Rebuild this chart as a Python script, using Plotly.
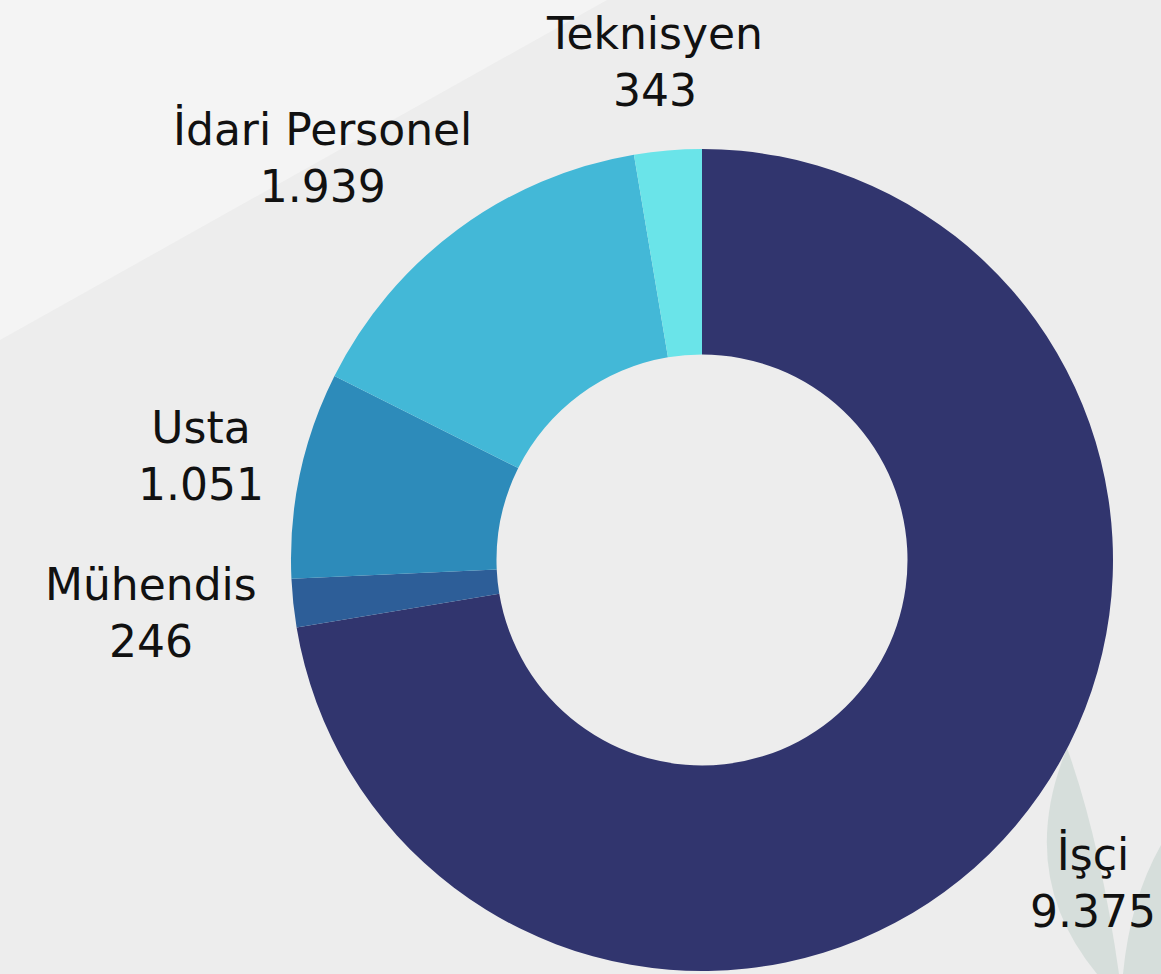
import math
import plotly.graph_objects as go

categories = ["İşçi", "Mühendis", "Usta", "İdari Personel", "Teknisyen"]
values = [9375, 246, 1051, 1939, 343]
value_labels = ["9.375", "246", "1.051", "1.939", "343"]
colors = ["#31356E", "#2D5E98", "#2D8BBA", "#43B8D7", "#6AE4E9"]

W, H = 1161, 974
FS = 44
cx_px, top_px, bot_px = 702, 149, 3
R = (H - top_px - bot_px) / 2
cy_px = top_px + R
half = 0.36

fig = go.Figure(go.Pie(
    labels=categories,
    values=values,
    hole=0.5,
    sort=False,
    direction="clockwise",
    rotation=0,
    marker=dict(colors=colors, line=dict(width=0)),
    textinfo="none",
    domain=dict(x=[cx_px / W - half, cx_px / W + half],
                y=[bot_px / H, 1 - top_px / H]),
    showlegend=False,
    hoverinfo="label+value",
))

# outside labels placed at each slice's mid-angle
total = sum(values)
cum = 0
for lab, v, vl in zip(categories, values, value_labels):
    mid = (cum + v / 2) / total * 2 * math.pi
    cum += v
    ux, uy = math.sin(mid), -math.cos(mid)  # screen coords (y down)
    hw = 0.32 * FS * max(len(lab), len(vl))
    hh = 58
    rr = 1.075 * R
    px = cx_px + rr * ux + hw * ux
    py = cy_px + rr * uy + hh * uy
    fig.add_annotation(
        x=px / W, y=1 - py / H, xref="paper", yref="paper",
        text=f"{lab}<br>{vl}", showarrow=False, align="center",
        xanchor="center", yanchor="middle",
        font=dict(family="DejaVu Sans", size=FS, color="#111111"),
    )

def P(x, y):
    return f"{x / W:.5f},{1 - y / H:.5f}"

# background decorations
fig.add_shape(type="path", xref="paper", yref="paper", layer="below",
              path=f"M {P(0,0)} L {P(607,0)} L {P(0,340)} Z",
              fillcolor="#F4F4F4", line=dict(width=0))
fig.add_shape(type="path", xref="paper", yref="paper", layer="below",
              path=f"M {P(1067,748)} Q {P(1015,875)} {P(1097,974)} L {P(1119,974)} Q {P(1100,840)} {P(1067,748)} Z",
              fillcolor="#D6DEDB", line=dict(width=0))
fig.add_shape(type="path", xref="paper", yref="paper", layer="below",
              path=f"M {P(1161,845)} Q {P(1130,900)} {P(1123,974)} L {P(1161,974)} Z",
              fillcolor="#D6DEDB", line=dict(width=0))

fig.update_layout(
    width=W, height=H,
    margin=dict(l=0, r=0, t=0, b=0),
    paper_bgcolor="#EDEDED",
    plot_bgcolor="#EDEDED",
    separators=",.",
)
fig.write_html("out.html", config={"displayModeBar": False},
               post_script="document.body.style.margin='0';")
